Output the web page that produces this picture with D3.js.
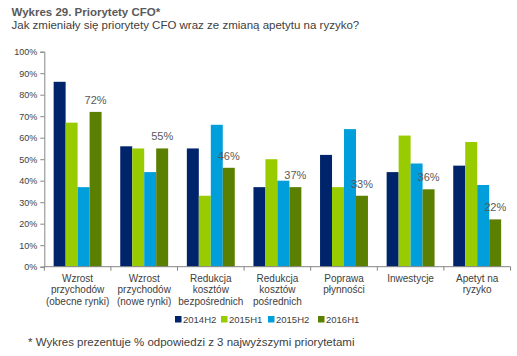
<!DOCTYPE html>
<html><head><meta charset="utf-8">
<script src="https://cdn.jsdelivr.net/npm/d3@7"></script>
<style>body{margin:0;background:#fff}svg{display:block;font-family:"Liberation Sans",Arial,sans-serif}</style>
</head><body>
<svg id="c" width="517" height="356"></svg>
<script>
const categories = [
  ["Wzrost","przychodów","(obecne rynki)"],
  ["Wzrost","przychodów","(nowe rynki)"],
  ["Redukcja","kosztów","bezpośrednich"],
  ["Redukcja","kosztów","pośrednich"],
  ["Poprawa","płynności"],
  ["Inwestycje"],
  ["Apetyt na","ryzyko"]
];
const seriesNames = ["2014H2","2015H1","2015H2","2016H1"];
const s2014H2 = [86, 56, 55, 37, 52, 44, 47];
const s2015H1 = [67, 55, 33, 50, 37, 61, 58];
const s2015H2 = [37, 44, 66, 40, 64, 48, 38];
const s2016H1 = [72, 55, 46, 37, 33, 36, 22];
const yTicks = [0,10,20,30,40,50,60,70,80,90,100];
const colors = ["#00246b","#99cc00","#009fdb","#5b7f00"];
const seriesValues = [s2014H2, s2015H1, s2015H2, s2016H1];

const svg = d3.select("#c");
const catIdx = categories.map((d,i)=>i);
const x0 = d3.scaleBand().domain(catIdx).range([44.3, 510.5]).padding(0);
const x1 = d3.scaleBand().domain(seriesNames).range([0, x0.bandwidth()]).paddingInner(0).paddingOuter(0.78);
const y = d3.scaleLinear().domain([0,100]).range([266.7, 51.7]);

// title
svg.append("text").attr("x",11.5).attr("y",16).attr("font-size","11.5px").attr("font-weight","bold").attr("fill","#595959").text("Wykres 29. Priorytety CFO*");
svg.append("text").attr("x",11.5).attr("y",29).attr("font-size","11.5px").attr("fill","#404040").text("Jak zmieniały się priorytety CFO wraz ze zmianą apetytu na ryzyko?");

// bars
seriesNames.forEach((s,si)=>{
  svg.append("g").selectAll("rect").data(seriesValues[si]).join("rect")
    .attr("x",(d,i)=>x0(i)+x1(s))
    .attr("width",x1.bandwidth())
    .attr("y",d=>y(d))
    .attr("height",d=>y(0)-y(d))
    .attr("fill",colors[si]);
});
// labels for 2016H1
svg.append("g").selectAll("text").data(s2016H1).join("text")
  .attr("x",(d,i)=>x0(i)+x1("2016H1")+x1.bandwidth()/2)
  .attr("y",d=>y(d)-8)
  .attr("text-anchor","middle").attr("font-size","11px").attr("fill","#595959")
  .text(d=>d+"%");

// y axis
const ya = svg.append("g").attr("transform","translate(44.3,0)")
  .call(d3.axisLeft(y).tickValues(yTicks).tickFormat(d=>d+"%").tickSize(4).tickPadding(3));
ya.select(".domain").attr("stroke","#868686");
ya.selectAll(".tick line").attr("stroke","#868686");
ya.selectAll(".tick text").attr("font-size","9px").attr("fill","#404040").attr("font-family","Liberation Sans, Arial, sans-serif");

// x axis
const xa = svg.append("g").attr("transform",`translate(0,${y(0)})`);
xa.append("line").attr("x1",x0.range()[0]).attr("x2",x0.range()[1]).attr("stroke","#868686");
const bounds = catIdx.map(i=>x0(i)).concat([x0.range()[1]]);
xa.selectAll("line.t").data(bounds).join("line").attr("class","t")
  .attr("x1",d=>d).attr("x2",d=>d).attr("y1",0).attr("y2",4).attr("stroke","#868686");
categories.forEach((lines,i)=>{
  const t = xa.append("text").attr("text-anchor","middle").attr("font-size","10px").attr("fill","#404040");
  lines.forEach((l,li)=>{
    t.append("tspan").attr("x",x0(i)+x0.bandwidth()/2).attr("y",15+li*11.5).text(l);
  });
});

// legend
const legX = [175, 221, 268, 318];
const lg = svg.append("g");
seriesNames.forEach((s,si)=>{
  lg.append("rect").attr("x",legX[si]).attr("y",316).attr("width",6.5).attr("height",6.5).attr("fill",colors[si]);
  lg.append("text").attr("x",legX[si]+8).attr("y",323).attr("font-size","9.5px").attr("fill","#404040").text(s);
});

// footnote
svg.append("text").attr("x",28).attr("y",346).attr("font-size","11.5px").attr("fill","#404040").text("* Wykres prezentuje % odpowiedzi z 3 najwyższymi priorytetami");
</script>
</body></html>
